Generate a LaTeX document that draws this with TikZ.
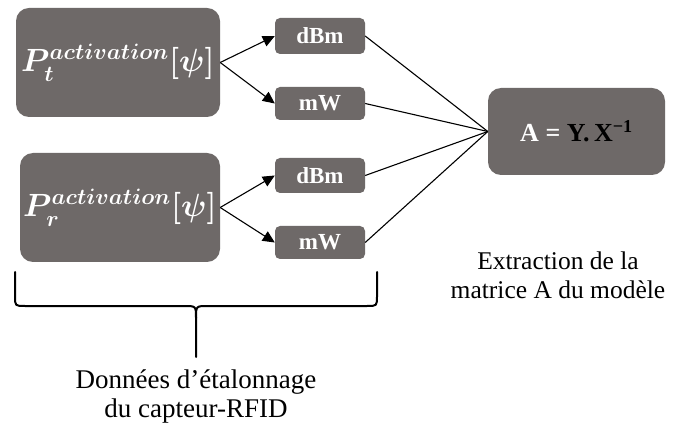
\documentclass[tikz,border=0pt]{standalone}
\usepackage{amsmath}
\usepackage{graphicx}
\usepackage{fontspec}
\setmainfont{Liberation Serif}
\usetikzlibrary{arrows.meta}
\definecolor{boxgray}{RGB}{110,105,104}
\tikzset{
  bigbox/.style={fill=boxgray, rounded corners=13pt, text=white, inner sep=0pt},
  smallbox/.style={fill=boxgray, rounded corners=5pt, text=white, inner sep=0pt,
     minimum width=90pt, font=\fontsize{23}{26}\selectfont\bfseries},
  conn/.style={draw=black, line width=1.1pt},
  arr/.style={conn, -{Triangle[length=12pt,width=11pt]}},
  caption/.style={align=center, font=\fontsize{27}{29}\selectfont, text=black},
}
\begin{document}
\begin{tikzpicture}[x=1pt,y=-1pt]
\useasboundingbox[fill=white] (0,0) rectangle (679,427);

\node[bigbox, minimum width=204pt, minimum height=109pt] (ptbox) at (118,62.5)
  {\scalebox{1.55}{\fontsize{20}{24}\selectfont\boldmath$P_{t}^{activation}[\psi]$}};
\node[bigbox, minimum width=200pt, minimum height=109pt] (prbox) at (120,207.5)
  {\scalebox{1.55}{\fontsize{20}{24}\selectfont\boldmath$P_{r}^{activation}[\psi]$}};

\node[smallbox, minimum height=36pt] (d1) at (320,36) {dBm};
\node[smallbox, minimum height=33pt] (m1) at (320,103.5) {mW};
\node[smallbox, minimum height=35pt] (d2) at (320,175.5) {dBm};
\node[smallbox, minimum height=33pt] (m2) at (320,242.5) {mW};

\node[bigbox, minimum width=177pt, minimum height=87pt,
  font=\fontsize{26}{30}\selectfont\bfseries] (abox) at (576.5,131.5)
  {A = \textcolor{black}{Y.\,X\textsuperscript{−1}}};

\draw[arr] (ptbox.east) -- (d1.west);
\draw[arr] (ptbox.east) -- (m1.west);
\draw[arr] (prbox.east) -- (d2.west);
\draw[arr] (prbox.east) -- (m2.west);

\draw[conn] (d1.east) -- (abox.west);
\draw[conn] (m1.east) -- (abox.west);
\draw[conn] (d2.east) -- (abox.west);
\draw[conn] (m2.east) -- (abox.west);

\node[caption, font=\fontsize{25.5}{29}\selectfont] (ext) at (558,275) {Extraction de la\\matrice A du modèle};

\coordinate (bl) at (15,272);
\coordinate (br) at (377,272);
\coordinate (tip) at (196,357);
\draw[line width=2pt, line cap=round, line join=round]
  (bl) -- (15,296) .. controls (15,306) .. (25,306) -- (184,306)
  .. controls (196,306) .. (196,318) -- (tip);
\draw[line width=2pt, line cap=round, line join=round]
  (br) -- (377,296) .. controls (377,306) .. (367,306) -- (208,306)
  .. controls (196,306) .. (196,318);

\node[caption] (cal) at (196,396) {Données d’étalonnage\\du capteur-RFID};
\end{tikzpicture}
\end{document}
